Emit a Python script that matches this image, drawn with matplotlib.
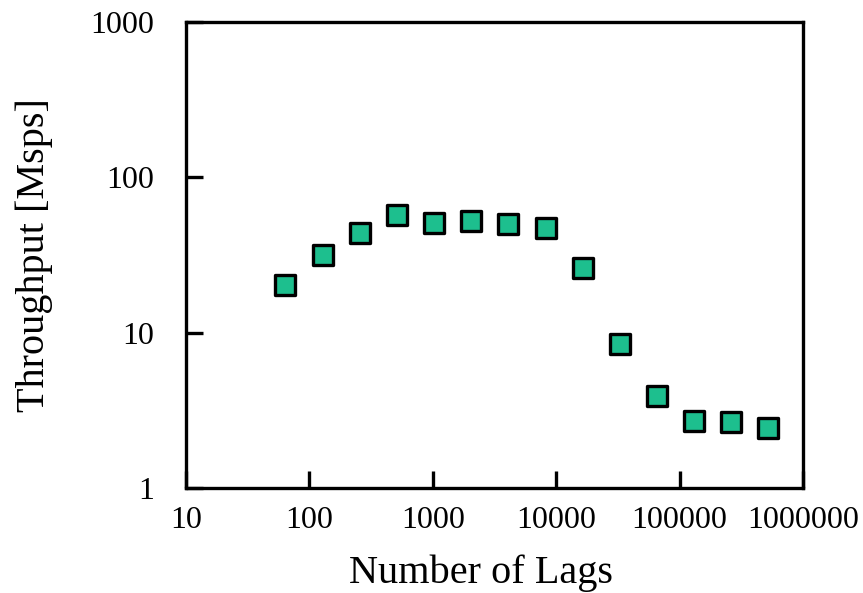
import numpy as np
import matplotlib
matplotlib.use('Agg')
import matplotlib.pyplot as plt
from matplotlib.ticker import FixedLocator, FixedFormatter, NullLocator

# Throughput vs number of lags
lags = [64, 128, 256, 512, 1024, 2048, 4096, 8192, 16384, 32768,
        65536, 131072, 262144, 524288]
throughput = [20.3, 31.7, 43.8, 57.3, 50.9, 52.4, 50.1, 47.2, 26.1, 8.46,
              3.91, 2.70, 2.66, 2.44]

x_ticks = [10, 100, 1000, 10000, 100000, 1000000]
x_tick_labels = ['10', '100', '1000', '10000', '100000', '1000000']
y_ticks = [1, 10, 100, 1000]
y_tick_labels = ['1', '10', '100', '1000']

plt.rcParams['font.family'] = ['Liberation Serif', 'DejaVu Serif']

fig = plt.figure(figsize=(8.63, 5.93), dpi=100)
ax = fig.add_axes([0.2155, 0.177, 0.715, 0.786])

ax.scatter(lags, throughput, marker='s', s=210, color='#1dbf8e',
           edgecolors='black', linewidths=2.4, zorder=3)

ax.set_xscale('log')
ax.set_yscale('log')
ax.set_xlim(10, 1000000)
ax.set_ylim(1, 1000)

ax.xaxis.set_major_locator(FixedLocator(x_ticks))
ax.xaxis.set_major_formatter(FixedFormatter(x_tick_labels))
ax.xaxis.set_minor_locator(NullLocator())
ax.yaxis.set_major_locator(FixedLocator(y_ticks))
ax.yaxis.set_major_formatter(FixedFormatter(y_tick_labels))
ax.yaxis.set_minor_locator(NullLocator())

ax.tick_params(axis='both', direction='in', length=12, width=2.4,
               labelsize=23, top=False, right=False)
ax.tick_params(axis='x', pad=13)
ax.tick_params(axis='y', pad=23)

for s in ax.spines.values():
    s.set_linewidth(2.4)

# axis titles placed to match the reference layout
fig.text(481 / 863, 1 - 583 / 593, 'Number of Lags', fontsize=29,
         ha='center', va='baseline')
ax.set_ylabel('Throughput [Msps]', fontsize=29)
ax.yaxis.set_label_coords(-0.215, 0.5)

fig.savefig('out.png', dpi=100)
